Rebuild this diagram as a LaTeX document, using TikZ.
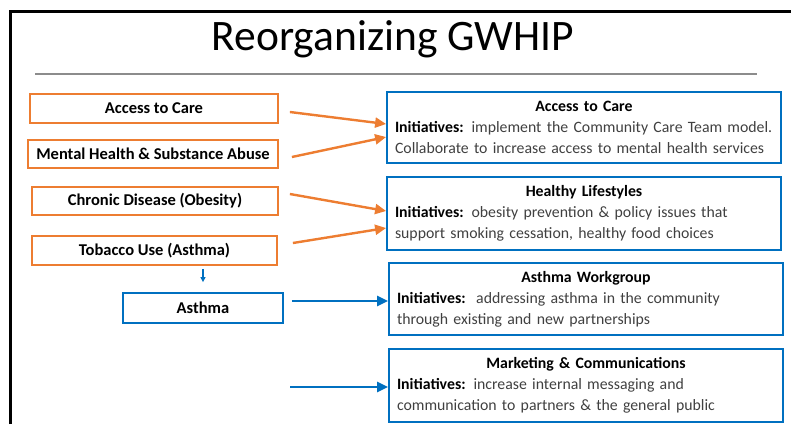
\documentclass[tikz,border=0pt]{standalone}
\usepackage{fontspec}
\setmainfont{Carlito}
\usetikzlibrary{positioning}
\usetikzlibrary{arrows.meta}

\definecolor{offorange}{RGB}{237,125,49}
\definecolor{offblue}{RGB}{0,112,192}
\definecolor{bodygray}{RGB}{64,64,64}

\newcommand{\rwidth}{378pt}

\begin{document}
\begin{tikzpicture}[
    x=1pt, y=-1pt,
    topic/.style = {draw=offorange, line width=1.8pt, inner sep=0pt,
      font=\fontsize{16.5}{19}\selectfont\bfseries},
    group/.style = {draw=offblue, line width=1.8pt, inner sep=0pt,
      minimum width=394pt, text width=\rwidth, align=left, text=bodygray,
      font=\fontsize{15.8}{21}\selectfont},
    head/.style = {},
    orarrow/.style = {draw=offorange, line width=2.4pt,
      -{Triangle[length=11pt,width=10pt]}},
    bluarrow/.style = {draw=offblue, line width=2.6pt,
      -{Triangle[length=11pt,width=10pt]}},
    ]
    \useasboundingbox (0,0) rectangle (791,424);

    % slide frame, title and rule
    \draw[line width=3pt] (10,424) -- (10,11) -- (791,11);
    \node (title) at (393,39) {\fontsize{43.5}{48}\selectfont Reorganizing GWHIP};
    \draw[black!45, line width=1.3pt] (35,74) -- (757,74);

    % old topics
    \node[topic, minimum width=248pt, minimum height=29pt] (lacc) at (154,108.5) {Access to Care};
    \node[topic, minimum width=250pt, minimum height=28pt] (lmh) at (153,154) {Mental Health \& Substance Abuse};
    \node[topic, minimum width=246pt, minimum height=28pt] (lcd) at (155,201) {Chronic Disease (Obesity)};
    \node[topic, minimum width=245pt, minimum height=29pt] (ltob) at (154.5,250.5) {Tobacco Use (Asthma)};
    \node[topic, draw=offblue, minimum width=160pt, minimum height=30pt] (asth) at (203,308) {Asthma};

    % new workgroups
    \node[group, minimum height=71pt] (racc) at (584,127.5) {%
      \makebox[\rwidth]{\color{black}\textbf{Access to Care}}\\
      \mbox{\textcolor{black}{\textbf{Initiatives:}} implement the Community Care Team model.}\\
      Collaborate to increase access to mental health services};
    \node[group, minimum height=73pt] (rhl) at (584,213.5) {%
      \makebox[\rwidth]{\color{black}\textbf{Healthy Lifestyles}}\\
      \textcolor{black}{\textbf{Initiatives:}} obesity prevention \& policy issues that\\
      support smoking cessation, healthy food choices};
    \node[group, minimum height=72pt] (raw) at (586,299) {%
      \makebox[\rwidth]{\color{black}\textbf{Asthma Workgroup}}\\
      \textcolor{black}{\textbf{Initiatives:}}\ \ addressing asthma in the community\\
      through existing and new partnerships};
    \node[group, minimum height=73pt] (rmc) at (586,385.5) {%
      \makebox[\rwidth]{\color{black}\textbf{Marketing \& Communications}}\\
      \textcolor{black}{\textbf{Initiatives:}} increase internal messaging and\\
      communication to partners \& the general public};

    \coordinate (mcstart) at (290,387);

    % connectors
    \draw[orarrow] ([xshift=11pt,yshift=-3.5pt]lacc.east) -- ([yshift=3.5pt]racc.west);
    \draw[orarrow] ([xshift=13pt,yshift=-3pt]lmh.east) -- ([yshift=-9.5pt]racc.west);
    \draw[orarrow] ([xshift=11pt,yshift=7pt]lcd.east) -- ([yshift=2.5pt]rhl.west);
    \draw[orarrow] ([xshift=15pt,yshift=7.5pt]ltob.east) -- ([yshift=-14.5pt]rhl.west);
    \draw[draw=offblue, line width=1.3pt, -{Triangle[length=5pt,width=5pt]}]
      ([xshift=48.5pt,yshift=-3pt]ltob.south) -- ([yshift=10pt]asth.north);
    \draw[bluarrow] ([xshift=8pt,yshift=7pt]asth.east) -- ([yshift=-2pt]raw.west);
    \draw[bluarrow] (mcstart) -- ([yshift=-1.5pt]rmc.west);
\end{tikzpicture}
\end{document}
